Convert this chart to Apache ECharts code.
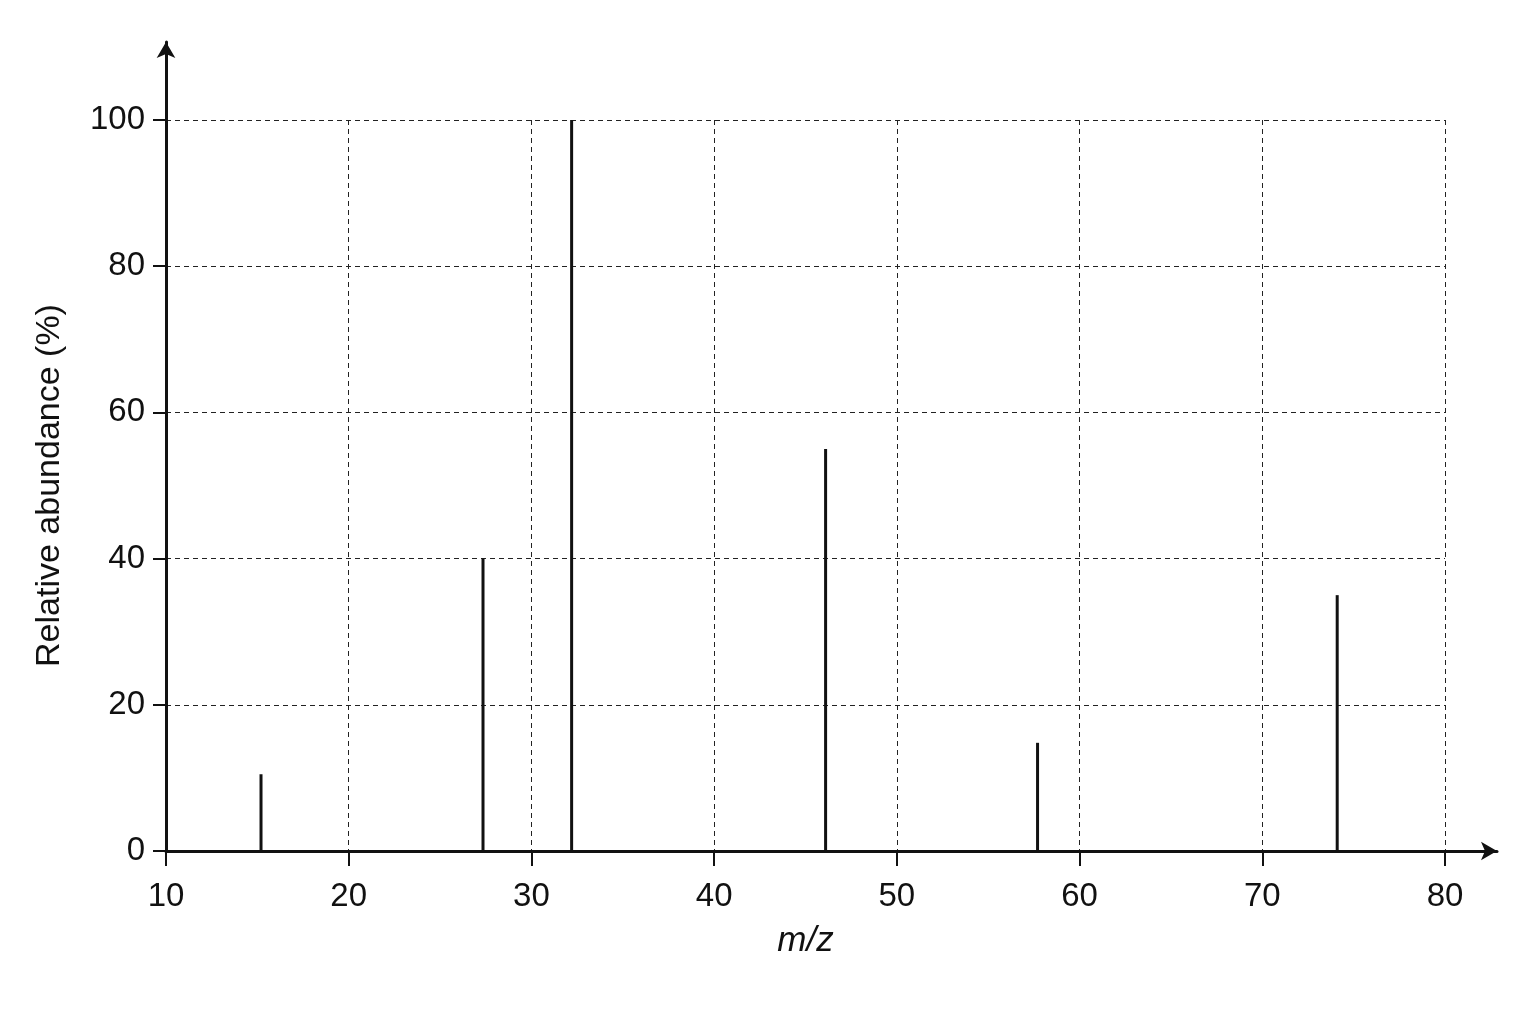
<!DOCTYPE html>
<html>
<head>
<meta charset="utf-8">
<script src="https://cdn.jsdelivr.net/npm/echarts@6/dist/echarts.min.js"></script>
<style>
html,body{margin:0;padding:0;background:#fff;}
#c{width:1536px;height:1024px;}
</style>
</head>
<body>
<div id="c"></div>
<script>
// m/z positions of peaks and their relative abundance (%)
const mz = [15.2, 27.35, 32.2, 46.1, 57.7, 74.1];
const abundance = [10.5, 40, 100, 55, 14.8, 35];
const xTicks = [10, 20, 30, 40, 50, 60, 70, 80];
const yTicks = [0, 20, 40, 60, 80, 100];
const xTitle = 'm/z';
const yTitle = 'Relative abundance (%)';

const peakData = mz.map((m, i) => [m, abundance[i]]);
const font = 'Liberation Sans, Arial, sans-serif';
const ink = '#111';

const chart = echarts.init(document.getElementById('c'));
chart.setOption({
  backgroundColor: '#ffffff',
  animation: false,
  grid: [
    { left: 166, right: 91, top: 120, bottom: 173 },
    { left: 166, right: 39, top: 42, bottom: 173 }
  ],
  xAxis: [
    {
      gridIndex: 0, type: 'value', min: xTicks[0], max: xTicks[xTicks.length - 1], interval: 10,
      axisLine: { show: false },
      axisTick: { show: true, length: 15, lineStyle: { color: ink, width: 2 } },
      axisLabel: { margin: 29, color: ink, fontSize: 33, fontFamily: font },
      splitLine: { show: true, lineStyle: { color: '#222', width: 1, type: [5, 4] } },
      name: xTitle, nameLocation: 'middle', nameGap: 73,
      nameTextStyle: { color: ink, fontSize: 35, fontFamily: font, fontStyle: 'italic' }
    },
    {
      gridIndex: 1, type: 'value', min: 10, max: 82.85,
      axisLine: { show: true, symbol: ['none', 'arrow'], symbolSize: [14, 16], lineStyle: { color: ink, width: 3 } },
      axisTick: { show: false }, axisLabel: { show: false }, splitLine: { show: false }
    }
  ],
  yAxis: [
    {
      gridIndex: 0, type: 'value', min: yTicks[0], max: yTicks[yTicks.length - 1], interval: 20,
      axisLine: { show: false },
      axisTick: { show: true, length: 13, lineStyle: { color: ink, width: 2 } },
      axisLabel: { margin: 21, color: ink, fontSize: 33, fontFamily: font },
      splitLine: { show: true, lineStyle: { color: '#222', width: 1, type: [5, 4] } },
      name: yTitle, nameLocation: 'middle', nameGap: 99, nameRotate: 90,
      nameTextStyle: { color: ink, fontSize: 34, fontFamily: font }
    },
    {
      gridIndex: 1, type: 'value', min: 0, max: 110.7,
      axisLine: { show: true, symbol: ['none', 'arrow'], symbolSize: [14, 16], lineStyle: { color: ink, width: 3 } },
      axisTick: { show: false }, axisLabel: { show: false }, splitLine: { show: false }
    }
  ],
  series: [
    {
      type: 'bar', xAxisIndex: 0, yAxisIndex: 0,
      data: peakData, barWidth: 3,
      itemStyle: { color: ink },
      z: 5
    }
  ]
});
</script>
</body>
</html>
